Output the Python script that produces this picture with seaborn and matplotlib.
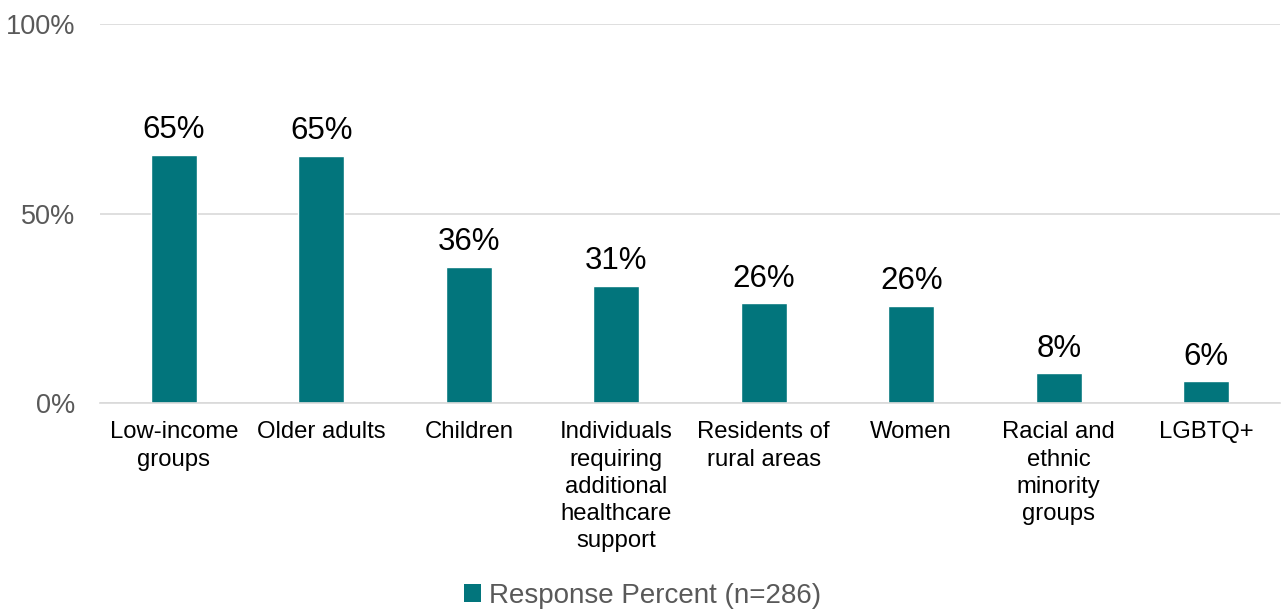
import matplotlib
matplotlib.use("Agg")
import matplotlib.pyplot as plt
import seaborn as sns
import pandas as pd
from matplotlib.patches import Patch

categories = ["Low-income\ngroups", "Older adults", "Children",
              "Individuals\nrequiring\nadditional\nhealthcare\nsupport",
              "Residents of\nrural areas", "Women",
              "Racial and\nethnic\nminority\ngroups", "LGBTQ+"]
values = [65.4, 65.1, 35.9, 30.9, 26.3, 25.6, 7.9, 5.8]
labels = ["65%", "65%", "36%", "31%", "26%", "26%", "8%", "6%"]
yticks = [0, 50, 100]
ytick_labels = ["0%", "50%", "100%"]
series_name = "Response Percent (n=286)"

sns.set_theme(style="white")
plt.rcParams['font.family'] = ['Liberation Sans', 'DejaVu Sans']

color = "#02757C"
df = pd.DataFrame({"cat": categories, "val": values})

fig = plt.figure(figsize=(12.86, 6.10), dpi=100)
ax = fig.add_axes([100/1286, (610-403.3)/610, 1180/1286, (403.3-23.7)/610])
sns.barplot(data=df, x="cat", y="val", color=color, width=0.31, ax=ax,
            saturation=1)

ax.set_ylim(0, 100)
ax.set_xlim(-0.5, len(categories) - 0.5)
ax.set_yticks(yticks)
ax.set_yticklabels(ytick_labels, color="#595959", fontsize=19.5)
ax.tick_params(axis="y", length=0, pad=18)
ax.tick_params(axis="x", length=0, pad=13, labelsize=17.2, labelcolor="#000000")
for lab in ax.get_xticklabels():
    lab.set_linespacing(1.31)
ax.grid(axis="y", color="#D9D9D9", linewidth=1.2)
ax.set_axisbelow(True)
for s in ["top", "right", "left"]:
    ax.spines[s].set_visible(False)
ax.spines["bottom"].set_color("#D9D9D9")
ax.spines["bottom"].set_linewidth(1.2)
ax.set_xlabel("")
ax.set_ylabel("")

for i, (v, t) in enumerate(zip(values, labels)):
    ax.annotate(t, (i, v), xytext=(0, 7), textcoords="offset points",
                ha="center", va="bottom", fontsize=22.5, color="#000000")

handle = Patch(facecolor=color, edgecolor="none")
fig.legend([handle], [series_name], loc="center", bbox_to_anchor=(0.5, 1 - 596/610),
           frameon=False, fontsize=20, labelcolor="#595959",
           handlelength=0.6, handleheight=0.6, handletextpad=0.3)

fig.savefig("out.png", dpi=100)
